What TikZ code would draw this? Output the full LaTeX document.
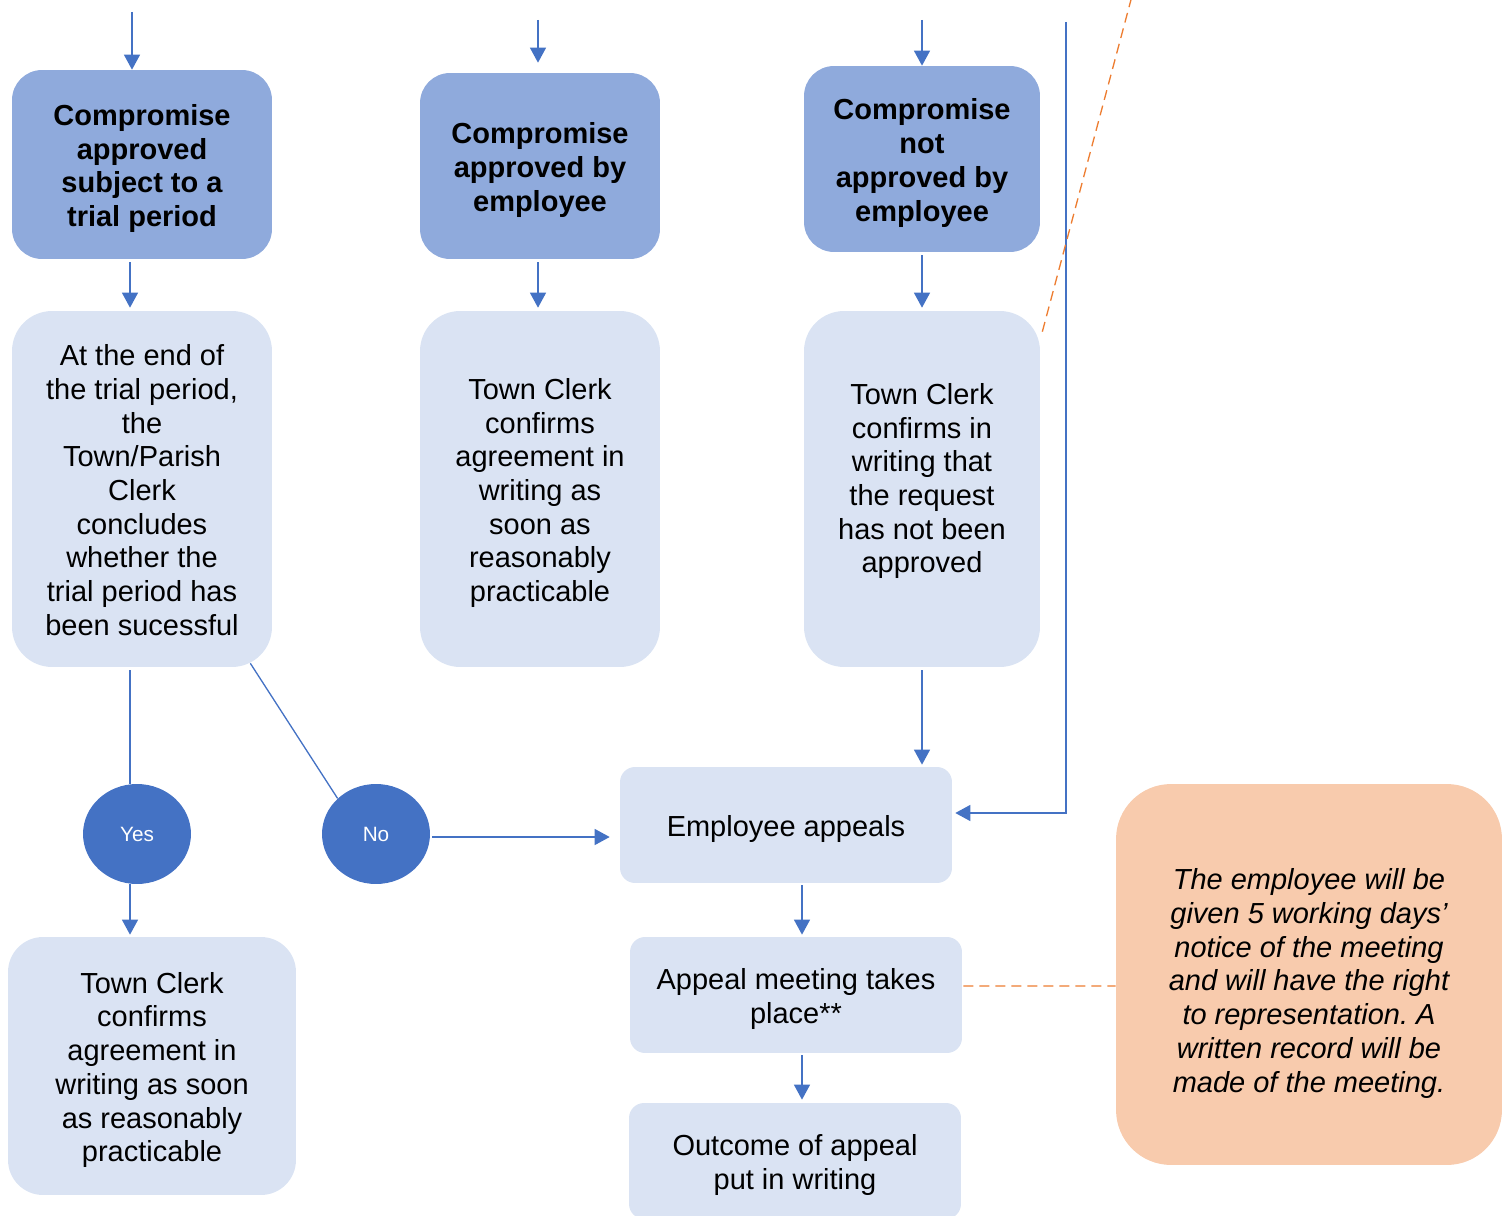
\documentclass[tikz,border=0pt]{standalone}
\usepackage{fontspec}
\setmainfont{Liberation Sans}
\usepackage{tikz}
\usetikzlibrary{calc}
\usetikzlibrary{arrows.meta}
\usetikzlibrary{shapes.geometric}
\usetikzlibrary{positioning}

\definecolor{dkbox}{HTML}{8FAADC}
\definecolor{ltbox}{HTML}{DAE3F3}
\definecolor{blu}{HTML}{4472C4}
\definecolor{orbox}{HTML}{F8CBAD}
\definecolor{orln}{HTML}{ED7D31}

\newcommand{\topstr}{\rule{0pt}{0.58cm}}
\newcommand{\botstr}{\rule[-0.12cm]{0pt}{0.12cm}}
\frenchspacing

\begin{document}
\begin{tikzpicture}[x=0.02cm, y=-0.02cm, every node/.style={inner sep=0pt, align=center, font=\fontsize{16.5}{19.2}\selectfont}
]
 \tikzstyle{dk}=[rectangle, rounded corners=0.6cm, fill=dkbox, font=\fontsize{16.5}{19.2}\selectfont\bfseries];
 \tikzstyle{lt}=[rectangle, rounded corners=0.8cm, fill=ltbox];
 \tikzstyle{lts}=[rectangle, rounded corners=0.3cm, fill=ltbox, minimum width=6.64cm, minimum height=2.32cm];
 \tikzstyle{yn}=[ellipse, fill=blu, text=white, minimum width=2.16cm, minimum height=2cm, font=\fontsize{11.8}{14}\selectfont];
 \tikzstyle{arr}=[draw=blu, line width=0.75pt, -{Triangle[width=0.32cm,length=0.3cm]}];
 \tikzstyle{ln}=[draw=blu, line width=0.75pt];
 \tikzstyle{dsh}=[draw=orln, line width=0.75pt, dash pattern=on 0.2cm off 0.12cm];
\useasboundingbox (0,0) rectangle (1511,1216);

% top row
\node[dk, minimum width=5.2cm, minimum height=3.78cm] (A1) at (142,164.5) {\topstr Compromise\\approved\\subject to a\\trial period\botstr};
\node[dk, minimum width=4.8cm, minimum height=3.72cm] (B1) at (540,166) {\topstr Compromise\\approved by\\employee\botstr};
\node[dk, minimum width=4.72cm, minimum height=3.72cm] (C1) at (922,159) {\topstr Compromise\\not\\approved by\\employee\botstr};

% second row
\node[lt, minimum width=5.2cm, minimum height=7.12cm] (A2) at (142,489) {\topstr At the end of\\the trial period,\\the\\Town/Parish\\Clerk\\concludes\\whether the\\trial period has\\been sucessful\botstr};
\node[lt, minimum width=4.8cm, minimum height=7.12cm] (B2) at (540,489) {\topstr Town Clerk\\confirms\\agreement in\\writing as\\soon as\\reasonably\\practicable\botstr};
\node[lt, minimum width=4.72cm, minimum height=7.12cm] (C2) at (922,489) {\topstr Town Clerk\\confirms in\\writing that\\the request\\has not been\\approved\\[-0.2cm]\botstr};

% decision
\node[yn] (Y) at (137,834) {Yes};
\node[yn] (N) at (376,834) {No};
\node[lt, rounded corners=0.7cm, minimum width=5.76cm, minimum height=5.16cm] (A3) at (152,1066) {\topstr Town Clerk\\confirms\\agreement in\\writing as soon\\as reasonably\\practicable\botstr};

% appeal
\node[lts] (EA) at (786,825) {\topstr Employee appeals\botstr};
\node[lts] (AM) at (796,995) {\topstr Appeal meeting takes\\place**\botstr};
\node[lts] (OC) at (795,1161) {\topstr Outcome of appeal\\put in writing\botstr};
\node[rectangle, rounded corners=1.1cm, fill=orbox, minimum width=7.72cm, minimum height=7.62cm, font=\fontsize{16.5}{19.2}\selectfont\itshape] (NT) at (1309,974.5) {\rule{0pt}{0.78cm}The employee will be\\given 5 working days’\\notice of the meeting\\and will have the right\\to representation. A\\written record will be\\made of the meeting.\botstr};

% free ends
\coordinate (tA) at (132,12);
\coordinate (tB) at (538,20);
\coordinate (tC) at (922,20);
\coordinate (tR) at (1066,22);
\coordinate (tO) at (1140,-34);

\draw[arr] (tA) -- (tA |- A1.north);
\draw[arr] (tB) -- ($(tB |- B1.north)+(0,-10)$);
\draw[arr] (tC) -- (tC |- C1.north);
\draw[arr] ($(A1.south)+(-12,3)$) -- ($(A2.north)+(-12,-3)$);
\draw[arr] ($(B1.south)+(-2,3)$) -- ($(B2.north)+(-2,-3)$);
\draw[arr] ($(C1.south)+(0,3)$) -- ($(C2.north)+(0,-3)$);
\draw[ln] ($(A2.south)+(-12,3)$) -- ($(Y.north)+(-7,0)$);
\draw[ln] ($(A2.south east)+(-22,-4)$) -- (N.north west);
\draw[arr] ($(Y.south)+(-7,0)$) -- ($(A3.north)+(-22,-2)$);
\draw[arr] ($(N.east)+(2,3)$) -- ($(N.east -| EA.west)+(-10,3)$);
\draw[arr] ($(C2.south)+(0,3)$) -- ($(EA.north -| C2.south)+(0,-2)$);
\draw[arr] (tR) |- ($(EA.east)+(3,-12)$);
\draw[arr] ($(EA.south)+(16,2)$) -- ($(AM.north)+(6,-2)$);
\draw[arr] ($(AM.south)+(6,2)$) -- ($(OC.north)+(7,-3)$);
\draw[dsh] ($(AM.east)+(1,-9)$) -- ($(NT.west)+(0,11.5)$);
\draw[dsh] ($(C2.north east)+(2,21)$) -- (tO);
\end{tikzpicture}
\end{document}
